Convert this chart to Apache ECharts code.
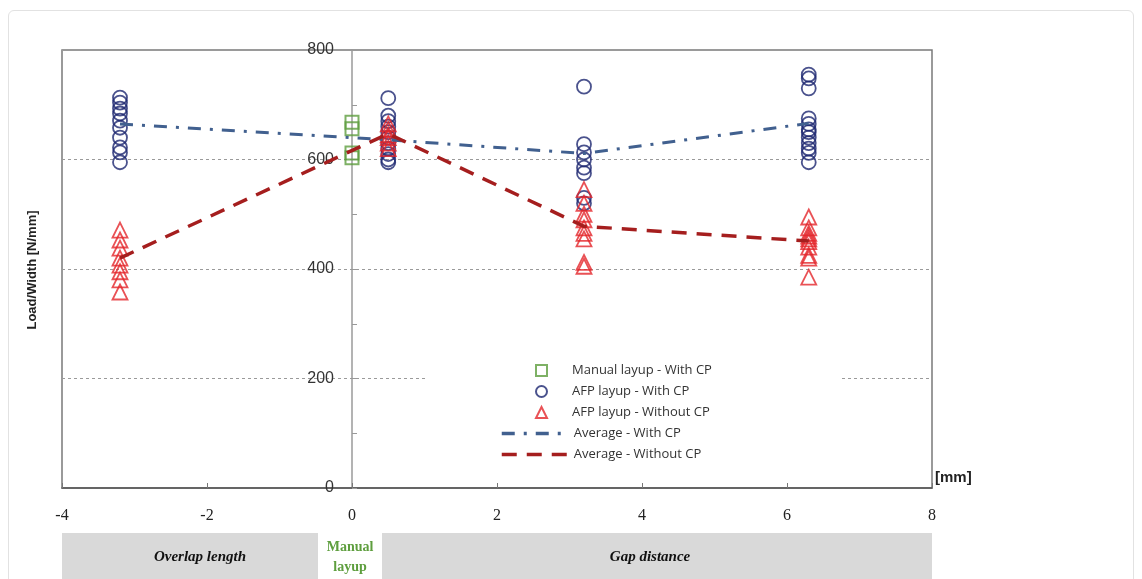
<!DOCTYPE html>
<html lang="en">
<head>
    <meta charset="UTF-8">
    <title>Load/Width vs overlap length and gap distance</title>
    <script src="https://cdn.jsdelivr.net/npm/echarts@6/dist/echarts.min.js"></script>
    <style>
        body { margin: 0; background: #fff; }
        #frame {
            position: absolute; left: 8px; top: 10px; width: 1124px; height: 600px;
            border: 1px solid #e2e2e2; border-radius: 6px;
        }
        #chart { position: absolute; left: 0; top: 0; width: 1142px; height: 579px; }
    </style>
</head>
<body>
<div id="frame"></div>
<div id="chart"></div>
<script type="text/javascript">
    // positions of the AFP specimens on the x axis [mm]
    let xPos = [-3.2, 0.5, 3.2, 6.3];

    // manual layup, with CP (all at x = 0)
    let manualX = 0;
    let manualY = [668, 656, 612, 603];

    // AFP layup with CP, one list per x position
    let withCP = [
        [713, 704, 693, 684, 671, 658, 640, 622, 613, 595],
        [712, 680, 670, 660, 650, 640, 630, 620, 610, 600, 595],
        [733, 628, 613, 600, 585, 575, 530, 520],
        [755, 748, 730, 675, 665, 655, 650, 640, 630, 620, 612, 595]
    ];

    // AFP layup without CP
    let withoutCP = [
        [471, 453, 438, 420, 407, 395, 380, 358],
        [665, 655, 645, 640, 630, 620],
        [545, 520, 500, 490, 475, 465, 455, 412, 405],
        [495, 475, 465, 460, 455, 450, 440, 425, 420, 385]
    ];

    // averages
    let avgWith = [665, 636, 611, 666];
    let avgWithout = [420, 647, 478, 451];

    let xTicks = [-4, -2, 0, 2, 4, 6, 8];

    function toPairs(groups) {
        let out = [];
        for (let i = 0; i < groups.length; i++) {
            for (let j = 0; j < groups[i].length; j++) {
                out.push([xPos[i], groups[i][j]]);
            }
        }
        return out;
    }

    let chart = echarts.init(document.getElementById('chart'));

    let legendText = { fontFamily: 'Open Sans', fontSize: 13, color: '#333' };

    let option = {
        animation: false,
        grid: {
            left: 62, top: 50, right: 210, bottom: 91,
            show: true, borderColor: '#7a7a7a', borderWidth: 1.5
        },
        legend: [
            {
                // marker entries
                orient: 'vertical',
                left: 425, top: 356,
                padding: [8, 130, 6, 110],
                backgroundColor: '#fff',
                itemWidth: 11, itemHeight: 11, itemGap: 8,
                textStyle: Object.assign({ padding: [0, 0, 0, 20] }, legendText),
                data: ['Manual layup - With CP', 'AFP layup - With CP', 'AFP layup - Without CP']
            },
            {
                // average lines
                orient: 'vertical',
                left: 500, top: 427,
                padding: 0,
                itemWidth: 67, itemHeight: 10, itemGap: 8,
                itemStyle: { color: 'rgba(0,0,0,0)', borderWidth: 0 },
                lineStyle: { width: 3.5 },
                textStyle: legendText,
                data: ['Average - With CP', 'Average - Without CP']
            }
        ],
        xAxis: {
            type: 'value',
            min: -4, max: 8, interval: 2,
            axisLine: { lineStyle: { color: '#555', width: 1.5 } },
            axisTick: { inside: true, length: 5, lineStyle: { color: '#777' } },
            axisLabel: {
                margin: 20,
                fontFamily: 'Liberation Serif', fontSize: 16, color: '#222',
                formatter: function (v) { return xTicks.indexOf(v) >= 0 ? String(v) : ''; }
            },
            splitLine: { show: false }
        },
        yAxis: {
            type: 'value',
            min: 0, max: 800, interval: 200,
            // axis sits at x = 0 of the x axis (290 px right of the grid edge)
            offset: -290,
            axisLine: { show: true, onZero: false, lineStyle: { color: '#9a9a9a', width: 1.5 } },
            axisTick: { show: true, inside: true, length: 5, lineStyle: { color: '#999' } },
            minorTick: { show: true, splitNumber: 2, length: 5, lineStyle: { color: '#999' } },
            axisLabel: {
                margin: 18,
                fontFamily: 'Liberation Sans', fontSize: 16, color: '#333'
            },
            splitLine: {
                show: true,
                lineStyle: { color: '#9a9a9a', type: [3, 3], width: 1 }
            }
        },
        series: [
            {
                name: 'Manual layup - With CP',
                type: 'scatter',
                symbol: 'rect', symbolSize: 13,
                itemStyle: { color: 'rgba(0,0,0,0)', borderColor: '#5e9e3e', borderWidth: 2 },
                data: manualY.map(function (v) { return [manualX, v]; }),
                z: 3
            },
            {
                name: 'AFP layup - With CP',
                type: 'scatter',
                symbol: 'circle', symbolSize: 14,
                itemStyle: { color: 'rgba(0,0,0,0)', borderColor: '#1d2770', borderWidth: 1.8 },
                data: toPairs(withCP),
                z: 3
            },
            {
                name: 'AFP layup - Without CP',
                type: 'scatter',
                symbol: 'triangle', symbolSize: 15,
                itemStyle: { color: 'rgba(0,0,0,0)', borderColor: '#e3252a', borderWidth: 1.8 },
                data: toPairs(withoutCP),
                z: 3
            },
            {
                name: 'Average - With CP',
                type: 'line',
                symbol: 'none',
                color: '#41608f',
                lineStyle: { color: '#41608f', width: 3, type: [13, 9, 3, 9] },
                data: xPos.map(function (x, i) { return [x, avgWith[i]]; }),
                z: 4
            },
            {
                name: 'Average - Without CP',
                type: 'line',
                symbol: 'none',
                color: '#a51e1e',
                lineStyle: { color: '#a51e1e', width: 3.5, type: [15, 10] },
                data: xPos.map(function (x, i) { return [x, avgWithout[i]]; }),
                z: 4
            }
        ],
        graphic: [
            {
                type: 'text', x: 32, y: 270, rotation: Math.PI / 2,
                style: {
                    text: 'Load/Width [N/mm]', fontFamily: 'Liberation Sans', fontWeight: 'bold',
                    fontSize: 13, fill: '#222', align: 'center', verticalAlign: 'middle'
                }
            },
            {
                type: 'text', x: 935, y: 478,
                style: {
                    text: '[mm]', fontFamily: 'Liberation Sans', fontWeight: 'bold',
                    fontSize: 15, fill: '#222', align: 'left', verticalAlign: 'middle'
                }
            },
            {
                type: 'rect', shape: { x: 62, y: 533, width: 870, height: 50 },
                style: { fill: '#d9d9d9' }, z: 0
            },
            {
                type: 'rect', shape: { x: 318, y: 533, width: 64, height: 50 },
                style: { fill: '#fff' }, z: 1
            },
            {
                type: 'text', x: 200, y: 557,
                style: {
                    text: 'Overlap length', fontFamily: 'Liberation Serif', fontWeight: 'bold',
                    fontStyle: 'italic', fontSize: 15, fill: '#111', align: 'center', verticalAlign: 'middle'
                }, z: 2
            },
            {
                type: 'text', x: 350, y: 557,
                style: {
                    text: 'Manual\nlayup', fontFamily: 'Liberation Serif', fontWeight: 'bold',
                    fontSize: 14, lineHeight: 20, fill: '#5e9e3e', align: 'center', verticalAlign: 'middle'
                }, z: 2
            },
            {
                type: 'text', x: 650, y: 557,
                style: {
                    text: 'Gap distance', fontFamily: 'Liberation Serif', fontWeight: 'bold',
                    fontStyle: 'italic', fontSize: 15, fill: '#111', align: 'center', verticalAlign: 'middle'
                }, z: 2
            }
        ]
    };
    chart.setOption(option);
</script>
</body>
</html>
